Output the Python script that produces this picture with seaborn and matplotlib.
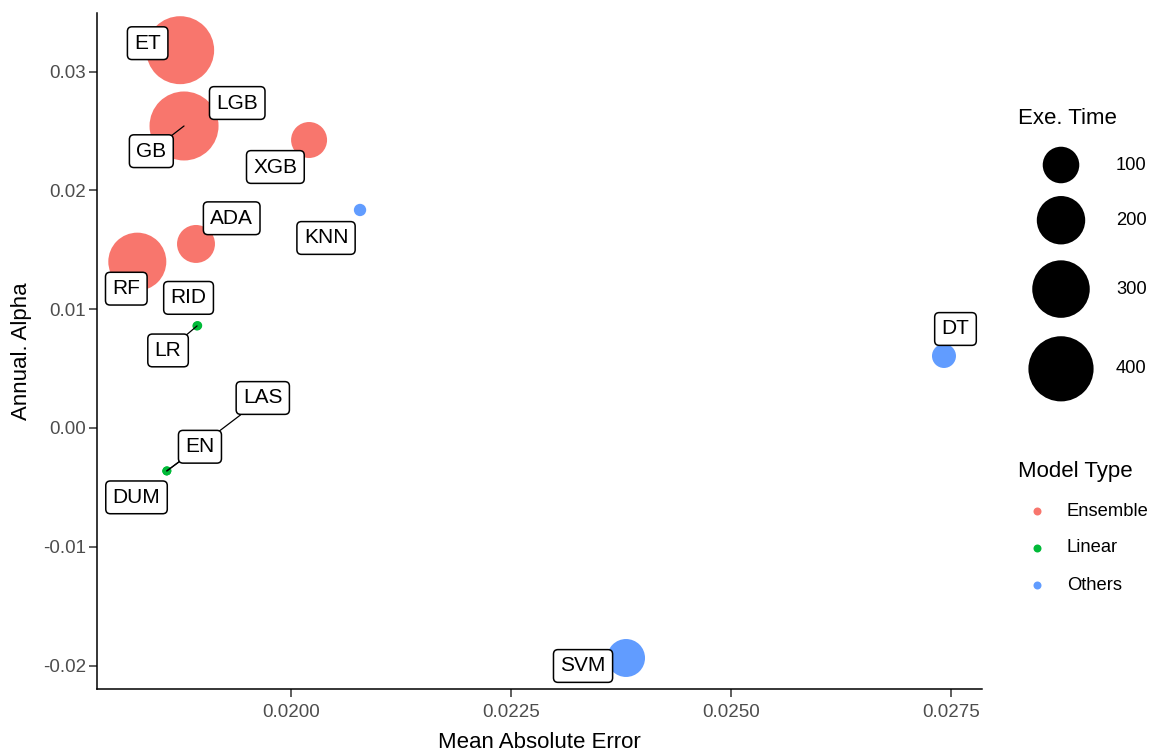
import numpy as np
import pandas as pd
import matplotlib
matplotlib.use("Agg")
import matplotlib.pyplot as plt
import seaborn as sns

# ---- data -------------------------------------------------------------
models = ["ET", "GB", "LGB", "XGB", "ADA", "RF", "KNN", "DT", "SVM",
          "LR", "RID", "LAS", "EN", "DUM"]
model_type = ["Ensemble", "Ensemble", "Ensemble", "Ensemble", "Ensemble", "Ensemble",
              "Others", "Others", "Others",
              "Linear", "Linear", "Linear", "Linear", "Linear"]
mean_abs_error = [0.01874, 0.018784, 0.01900, 0.020205, 0.01892, 0.018253,
                  0.020784, 0.02742, 0.023807,
                  0.018932, 0.018940, 0.018588, 0.018590, 0.018585]
annual_alpha = [0.0318, 0.02542, 0.02609, 0.02424, 0.01549, 0.0140,
                0.01835, 0.00606, -0.01936,
                0.00859, 0.00862, -0.00362, -0.00360, -0.00365]
exe_time = [440.0, 455.3, 8.0, 96.0, 110.0, 306.0,
            2.6, 31.6, 110.0,
            0.5, 0.4, 0.4, 0.4, 0.3]

type_order = ["Ensemble", "Linear", "Others"]
type_colors = {"Ensemble": "#F8766D", "Linear": "#00BA38", "Others": "#619CFF"}
size_breaks = [100, 200, 300, 400]

x_ticks = [0.0200, 0.0225, 0.0250, 0.0275]
y_ticks = [-0.02, -0.01, 0.00, 0.01, 0.02, 0.03]

# label placement relative to each point (pixels: right, down)
label_offsets_px = {
    "ET": (-32.5, -7), "GB": (-32.7, 25.2), "LGB": (34.2, -15),
    "XGB": (-33.7, 27), "ADA": (35.7, -25.7), "RF": (-11, 27),
    "KNN": (-34, 28), "DT": (11.5, -27), "SVM": (-43, 8),
    "LR": (-29, 24.5), "RID": (-9.2, -27.7), "LAS": (96, -73),
    "EN": (33, -24), "DUM": (-30, 26),
}
leader_lines = {"GB", "LR", "LAS", "EN"}

# ---- figure -----------------------------------------------------------
DPI = 100
W, H = 1159, 756
sns.set_theme(style="white")
plt.rcParams["font.family"] = ["Liberation Sans", "DejaVu Sans"]
plt.rcParams["axes.unicode_minus"] = False

df = pd.DataFrame({"model": models, "type": model_type, "mae": mean_abs_error,
                   "alpha": annual_alpha, "exe": exe_time})

# area-style size scale: radius grows with sqrt of rescaled execution time
R_MIN, R_MAX = 4.0, 34.5  # pixels
vmin, vmax = df["exe"].min(), df["exe"].max()


def radius_px(v):
    return R_MIN + (R_MAX - R_MIN) * np.sqrt((np.asarray(v) - vmin) / (vmax - vmin))


def area_pt2(v):
    return (2 * radius_px(v) * 72.0 / DPI) ** 2


df["marker_area"] = area_pt2(df["exe"])
amin, amax = df["marker_area"].min(), df["marker_area"].max()

fig = plt.figure(figsize=(W / DPI, H / DPI), dpi=DPI)
ax = fig.add_axes([97 / W, 1 - 689 / H, (982 - 97) / W, (689 - 13) / H])

sns.scatterplot(data=df, x="mae", y="alpha", hue="type", hue_order=type_order,
                palette=type_colors, size="marker_area", sizes=(amin, amax),
                size_norm=(amin, amax), linewidth=0, alpha=1, legend=False,
                ax=ax, zorder=2)

px2pt = 72.0 / DPI
for _, row in df.iterrows():
    dx, dy = label_offsets_px[row["model"]]
    arrow = None
    if row["model"] in leader_lines:
        arrow = dict(arrowstyle="-", color="black", lw=0.9, shrinkA=0, shrinkB=0)
    ax.annotate(row["model"], xy=(row["mae"], row["alpha"]),
                xytext=(dx * px2pt, -dy * px2pt), textcoords="offset points",
                ha="center", va="center", fontsize=15, color="black",
                bbox=dict(boxstyle="round,pad=0.33,rounding_size=0.22",
                          fc="white", ec="black", lw=1.1),
                arrowprops=arrow, zorder=5)

ax.set_xlim(0.017795, 0.027852)
ax.set_ylim(-0.02197, 0.03493)
ax.set_xticks(x_ticks)
ax.set_xticklabels([f"{t:.4f}" for t in x_ticks])
ax.set_yticks(y_ticks)
ax.set_yticklabels([f"{t:.2f}" for t in y_ticks])
ax.tick_params(axis="both", which="major", length=6, width=1.1, color="#333333",
               labelsize=13.5, labelcolor="#4D4D4D", direction="out",
               bottom=True, left=True)
ax.tick_params(axis="x", pad=5)
ax.tick_params(axis="y", pad=2)
for side in ["top", "right"]:
    ax.spines[side].set_visible(False)
for side in ["left", "bottom"]:
    ax.spines[side].set_color("black")
    ax.spines[side].set_linewidth(1.1)
ax.set_xlabel("Mean Absolute Error", fontsize=16, color="black", labelpad=8)
ax.set_ylabel("Annual. Alpha", fontsize=16, color="black", labelpad=8)
ax.grid(False)

# ---- legends (drawn in a pixel-space overlay) ---------------------------
lax = fig.add_axes([0, 0, 1, 1], facecolor="none")
lax.set_xlim(0, W)
lax.set_ylim(H, 0)
lax.axis("off")

lax.text(1018, 119, "Exe. Time", fontsize=16, color="black", ha="left", va="center")
diam = 2 * radius_px(size_breaks)
ys = [165.0]
for i in range(1, len(size_breaks)):
    ys.append(ys[-1] + 0.65 * (diam[i - 1] + diam[i]))
lax.scatter([1061] * len(size_breaks), ys, s=area_pt2(size_breaks), color="black",
            linewidth=0)
for y, b in zip(ys, size_breaks):
    lax.text(1116, y, str(b), fontsize=13.2, color="black", ha="left", va="center")

lax.text(1018, 471, "Model Type", fontsize=16, color="black", ha="left", va="center")
for i, t in enumerate(type_order):
    y = 511 + 37 * i
    lax.scatter([1037], [y], s=(2 * R_MIN * px2pt) ** 2, color=type_colors[t], linewidth=0)
    lax.text(1067, y, t, fontsize=13.2, color="black", ha="left", va="center")

fig.savefig("out.png", dpi=DPI)
